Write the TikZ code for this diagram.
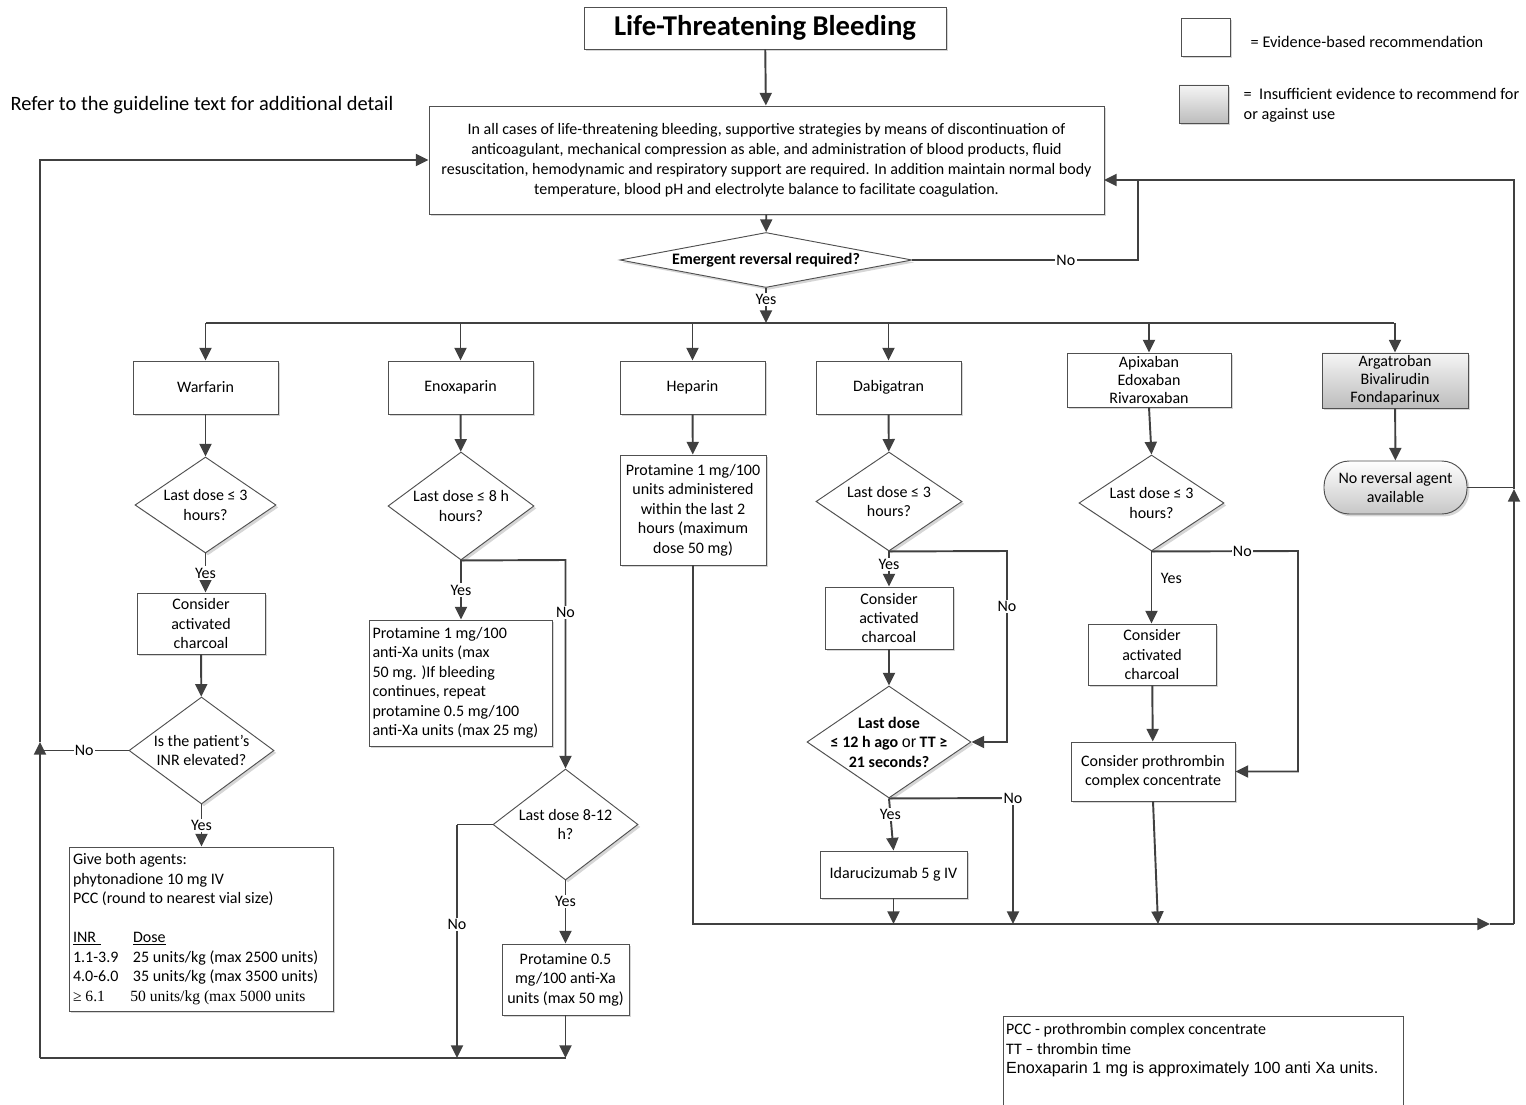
\documentclass[tikz,border=0pt]{standalone}
\usepackage{fontspec}
\setmainfont{Carlito}
\newfontfamily\arialf{Liberation Sans}
\newfontfamily\timesf{Liberation Serif}
\usetikzlibrary{arrows.meta,shapes.geometric,shadows,calc}
\definecolor{ln}{HTML}{404040}
\definecolor{bd}{HTML}{505050}
\tikzset{
  every node/.style={font=\fontsize{12}{14.6}\selectfont, text=black},
  bw/.style={minimum width=#1*0.75pt},
  bh/.style={minimum height=#1*0.75pt},
  shad/.style={general shadow={fill=black!16, shadow xshift=1.8pt, shadow yshift=-1.8pt}},
  box/.style={draw=bd, line width=0.7pt, fill=white, shad, align=center, inner sep=2pt},
  gbox/.style={box, top color=black!4, bottom color=black!26},
  dia/.style={diamond, draw=bd, line width=0.7pt, fill=white, shad, inner sep=0pt},
  line/.style={draw=ln, line width=1.45pt},
  arr/.style={line, -{Triangle[length=9.5pt,width=9pt]}},
  lbl/.style={fill=white, inner sep=1pt}
}
\begin{document}
\begin{tikzpicture}[x=0.75pt, y=-0.75pt]
\useasboundingbox (0,0) rectangle (1526,1105);

% ---------- header / legend ----------
\node[box, bw=362, bh=42, font=\fontsize{21.5}{25}\selectfont\bfseries] (title) at (765,28) {Life-Threatening Bleeding};
\node[box, bw=49, bh=38] (legW) at (1205.5,37) {};
\node[anchor=west, font=\fontsize{12.2}{14}\selectfont] (legWt) at (1246,42) {= Evidence-based recommendation};
\node[gbox, bw=49, bh=38] (legG) at (1203.5,104) {};
\node[anchor=west, align=left, font=\fontsize{12.2}{15}\selectfont] (legGt) at (1239,105) {=\ \ Insufficient evidence to recommend for\\or against use};
\node[anchor=west, font=\fontsize{15.3}{17}\selectfont] (refer) at (6,105) {Refer to the guideline text for additional detail};

% ---------- main ----------
\node[box, bw=675, bh=108, font=\fontsize{12}{15}\selectfont] (main) at (766.5,160)
 {In all cases of life-threatening bleeding, supportive strategies by means of discontinuation of\\
  anticoagulant, mechanical compression as able, and administration of blood products, fluid\\
  resuscitation, hemodynamic and respiratory support are required. In addition maintain normal body\\
  temperature, blood pH and electrolyte balance to facilitate coagulation.};

\node[dia, bw=292, bh=55] (em) at (766,260) {};
\node[font=\fontsize{12}{14.6}\selectfont\bfseries] (emt) at (em) {Emergent reversal required?};

% ---------- drug row ----------
\node[box, bw=145, bh=53] (warf) at (205.5,387.5) {Warfarin};
\node[box, bw=145, bh=53] (enox) at (460.5,387.5) {Enoxaparin};
\node[box, bw=145, bh=53] (hep) at (692.5,387.5) {Heparin};
\node[box, bw=145, bh=53] (dab) at (888.5,387.5) {Dabigatran};
\node[box, bw=164, bh=54, font=\fontsize{12}{13.5}\selectfont] (apx) at (1149,380) {Apixaban\\Edoxaban\\Rivaroxaban};
\node[gbox, bw=146, bh=47, font=\fontsize{12}{13.5}\selectfont] (arg) at (1395,380.5) {Argatroban\\Bivalirudin\\Fondaparinux};

% ---------- warfarin ----------
\node[dia, bw=141, bh=96] (wd) at (205.5,505) {};
\node[align=center] (wdt) at (wd) {Last dose ≤ 3\\hours?};
\node[box, bw=128, bh=61] (wchar) at (201,623.5) {Consider\\activated\\charcoal};
\node[dia, bw=145, bh=107] (inr) at (201.5,750.5) {};
\node[align=center] (inrt) at (inr) {Is the patient’s\\INR elevated?};
\node[box, bw=264, bh=164, align=flush left, text width=192pt] (wpcc) at (201,929)
 {Give both agents:\\phytonadione 10 mg IV\\PCC (round to nearest vial size)\\\mbox{}\\
  \makebox[45pt][l]{\underline{INR\hspace{4pt}}}\underline{Dose}\\
  \makebox[45pt][l]{1.1-3.9}25 units/kg (max 2500 units)\\
  \makebox[45pt][l]{4.0-6.0}35 units/kg (max 3500 units)\\
  {\timesf\fontsize{11.7}{14.6}\selectfont\makebox[43pt][l]{≥ 6.1}50 units/kg (max 5000 units}};

% ---------- enoxaparin ----------
\node[dia, bw=146, bh=108] (ed) at (461,506) {};
\node[align=center] (edt) at (ed) {Last dose ≤ 8 h\\hours?};
\node[box, bw=183, bh=126, align=flush left, text width=132pt] (eyes) at (460.5,683)
 {Protamine 1 mg/100\\anti-Xa units (max\\50 mg. )If bleeding\\continues, repeat\\protamine 0.5 mg/100\\anti-Xa units (max 25 mg)};
\node[dia, bw=145, bh=111] (ed2) at (565.5,824.5) {};
\node[align=center] (ed2t) at (ed2) {Last dose 8-12\\h?};
\node[box, bw=127, bh=71] (ep2) at (565.5,979.5) {Protamine 0.5\\mg/100 anti-Xa\\units (max 50 mg)};

% ---------- heparin ----------
\node[box, bw=146, bh=110] (hepP) at (693,510) {Protamine 1 mg/100\\units administered\\within the last 2\\hours (maximum\\dose 50 mg)};

% ---------- dabigatran ----------
\node[dia, bw=146, bh=99] (dd) at (889,501.5) {};
\node[align=center] (ddt) at (dd) {Last dose ≤ 3\\hours?};
\node[box, bw=128, bh=62] (dchar) at (889,618) {Consider\\activated\\charcoal};
\node[dia, bw=164, bh=112] (dd2) at (889,742) {};
\node[align=center, font=\fontsize{12}{14.6}\selectfont\bfseries] (dd2t) at (dd2) {Last dose\\≤ 12 h ago {\arialf\mdseries or} TT ≥\\21 seconds?};
\node[box, bw=147, bh=47] (ida) at (893.5,874.5) {Idarucizumab 5 g IV};

% ---------- apixaban ----------
\node[dia, bw=145, bh=96] (ad) at (1151.5,503) {};
\node[align=center] (adt) at (ad) {Last dose ≤ 3\\hours?};
\node[box, bw=128, bh=61] (achar) at (1152,654.5) {Consider\\activated\\charcoal};
\node[box, bw=164, bh=59] (apcc) at (1153,771.5) {Consider prothrombin\\complex concentrate};

% ---------- argatroban ----------
\node[draw=bd, line width=0.7pt, shad, top color=white, bottom color=black!22, rounded corners=19pt, bw=143, bh=53, align=center, inner sep=2pt] (noRev) at (1395.5,487.5) {No reversal agent\\available};

% ---------- note ----------
\node[draw=bd, line width=0.7pt, anchor=north west, inner xsep=2pt, inner ysep=5.5pt, align=left] (note) at (1003,1016)
 {\parbox[t][82pt][t]{296pt}{\raggedright PCC - prothrombin complex concentrate\\TT – thrombin time\\{\arialf\fontsize{12.1}{14.6}\selectfont Enoxaparin 1 mg is approximately 100 anti Xa units.}}};

% ---------- coordinates ----------
\coordinate (busC) at (766,323);
\coordinate (busL) at (206,323);
\coordinate (busR) at (1394,323);
\coordinate (emNo) at (1138,260);
\coordinate (emNoT) at (1138,180);
\coordinate (mainR) at (1104,180);
\coordinate (rt) at (1514,180);
\coordinate (rmid) at (1514,489);
\coordinate (rb) at (1514,924);
\coordinate (rbArr) at (1490,924);
\coordinate (botL) at (40,1058);
\coordinate (lMid) at (40,742);
\coordinate (botE1) at (457,1058);
\coordinate (botE2) at (565.5,1058);
\coordinate (eNo) at (565.5,560);
\coordinate (e2L) at (457,824.5);
\coordinate (dNo1) at (1007,551);
\coordinate (dNo2) at (1007,742);
\coordinate (dNoB) at (1013,798);
\coordinate (dNoBot) at (1013,924);
\coordinate (idaBot) at (893.5,924);
\coordinate (aNo1) at (1298,551);
\coordinate (aNo2) at (1298,771.5);
\coordinate (apBot) at (1158,924);

% ---------- connectors: top ----------
\draw[arr] (title) -- (main);
\draw[arr] (main) -- (em);
\draw[arr] (em.south) -- node[lbl, pos=0.32]{Yes} (busC);
\draw[line] (busL) -- (busR);
\foreach \n in {warf,enox,hep,dab,apx,arg} \draw[arr] (\n.north |- busC) -- (\n.north);
\draw[line] (em.east) -- node[lbl, pos=0.68]{No} (emNo) -- (emNoT);

% right loop
\draw[arr] (hepP.south) |- (rbArr);
\draw[line] (rbArr) -- (rb);
\draw[arr] (rb) -- (rmid);
\draw[arr] (rmid) -- (rt) -- (mainR);
\draw[line] (noRev.east) -- (noRev.east -| rt);

% left loop
\draw[line] (botE2) -- (botL);
\draw[arr] (botL) -- (lMid);
\draw[arr] (lMid) |- (main.west);

% ---------- warfarin ----------
\draw[arr] (warf) -- (wd);
\draw[arr] (wd.south) -- node[lbl]{Yes} (wd.south |- wchar.north);
\draw[arr] (wchar) -- (inr);
\draw[line] (inr.west) -- node[lbl]{No} (inr.west -| botL);
\draw[arr] (inr.south) -- node[lbl]{Yes} (inr.south |- wpcc.north);

% ---------- enoxaparin ----------
\draw[arr] (enox) -- (ed);
\draw[arr] (ed.south) -- node[lbl]{Yes} (ed.south |- eyes.north);
\draw[arr] (ed.south) -- (eNo) -- node[lbl, pos=0.25]{No} (ed2.north);
\draw[line] (ed2.west) -- (e2L);
\draw[arr] (e2L) -- node[lbl, pos=0.43]{No} (botE1);
\draw[arr] (ed2.south) -- node[lbl, pos=0.34]{Yes} (ep2.north);
\draw[arr] (ep2.south) -- (botE2);

% ---------- heparin ----------
\draw[arr] (hep) -- (hepP);

% ---------- dabigatran ----------
\draw[arr] (dab) -- (dd);
\draw[arr] (dd.south) -- node[lbl, pos=0.36]{Yes} (dchar.north);
\draw[arr] (dd.south) -- (dNo1) -- node[lbl, pos=0.29]{No} (dNo2) -- (dd2.east);
\draw[arr] (dchar) -- (dd2);
\draw[arr] (dd2.south) -- node[lbl, pos=0.3]{Yes} (ida.north);
\draw[line] (dd2.south) -- (dNoB);
\draw[arr] (dNoB) -- node[lbl, pos=0]{No} (dNoBot);
\draw[arr] (ida.south) -- (idaBot);

% ---------- apixaban ----------
\draw[arr] (apx.south) -- (ad.north);
\draw[arr] (ad.south) -- node[right=3pt, pos=0.37]{Yes} (ad.south |- achar.north);
\draw[arr] (ad.south) -- node[lbl, pos=0.62]{No} (aNo1) -- (aNo2) -- (apcc.east);
\draw[arr] (achar) -- (apcc);
\draw[arr] (apcc.south) -- (apBot);

% ---------- argatroban ----------
\draw[arr] (arg) -- (noRev);
\end{tikzpicture}
\end{document}
